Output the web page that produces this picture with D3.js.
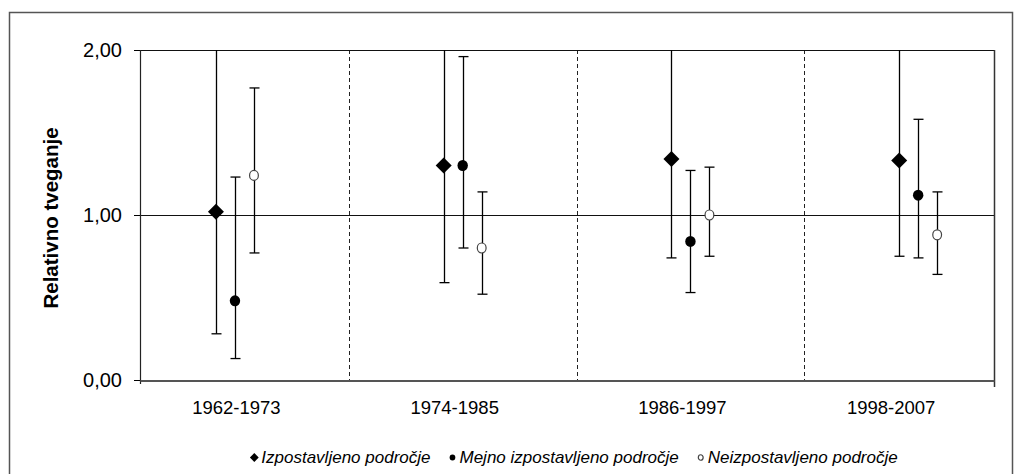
<!DOCTYPE html>
<html>
<head>
<meta charset="utf-8">
<script src="https://cdn.jsdelivr.net/npm/d3@7"></script>
<style>
  html, body { margin: 0; padding: 0; background: #fff; }
  svg { display: block; font-family: "Liberation Sans", Arial, sans-serif; }
</style>
</head>
<body>
<svg id="chart" width="1024" height="474"></svg>
<script>
// Relative risk by period with 95% confidence intervals
const categories = ["1962-1973", "1974-1985", "1986-1997", "1998-2007"];
const seriesNames = ["Izpostavljeno področje", "Mejno izpostavljeno področje", "Neizpostavljeno področje"];

const rrExposed   = [1.02, 1.30, 1.34, 1.33];
const lowExposed  = [0.28, 0.59, 0.74, 0.75];
const highExposed = [3.70, 2.90, 2.40, 2.35];

const rrBorder   = [0.48, 1.30, 0.84, 1.12];
const lowBorder  = [0.13, 0.80, 0.53, 0.74];
const highBorder = [1.23, 1.96, 1.27, 1.58];

const rrUnexposed   = [1.24, 0.80, 1.00, 0.88];
const lowUnexposed  = [0.77, 0.52, 0.75, 0.64];
const highUnexposed = [1.77, 1.14, 1.29, 1.14];

const yTicks = [0, 1, 2];
const yTitle = "Relativno tveganje";

const series = [
  { name: seriesNames[0], rr: rrExposed, low: lowExposed, high: highExposed, shape: "diamond" },
  { name: seriesNames[1], rr: rrBorder, low: lowBorder, high: highBorder, shape: "dot" },
  { name: seriesNames[2], rr: rrUnexposed, low: lowUnexposed, high: highUnexposed, shape: "ring" }
];

const svg = d3.select("#chart");
const plot = { left: 140, right: 994, top: 50, bottom: 380 };

const locale = d3.formatLocale({ decimal: ",", thousands: ".", grouping: [3], currency: ["", " €"] });
const fmt = locale.format(".2f");

const x = d3.scalePoint().domain(categories).range([plot.left, plot.right]).padding(0.375).align(0.556);
const xInner = d3.scalePoint().domain(seriesNames).range([-19, 19]);
const y = d3.scaleLinear().domain([0, 2]).range([plot.bottom, plot.top]);

// outer frame
svg.append("path")
  .attr("d", "M9.5,474 V12.5 H1012.5 V474")
  .attr("fill", "none").attr("stroke", "#555").attr("stroke-width", 1.5);

svg.append("defs").append("clipPath").attr("id", "plotClip")
  .append("rect")
  .attr("x", plot.left).attr("y", plot.top)
  .attr("width", plot.right - plot.left).attr("height", plot.bottom - plot.top);

// period boundaries midway between category positions
const cats = categories.map(c => x(c));
const bounds = [plot.left];
for (let i = 0; i < cats.length - 1; i++) bounds.push((cats[i] + cats[i + 1]) / 2);
bounds.push(plot.right);

svg.append("g").selectAll("line").data(bounds.slice(1, -1)).join("line")
  .attr("x1", d => Math.round(d) + 0.5).attr("x2", d => Math.round(d) + 0.5)
  .attr("y1", plot.top).attr("y2", plot.bottom)
  .attr("stroke", "#222").attr("stroke-width", 1)
  .attr("stroke-dasharray", "4,3");

// y axis with horizontal rules at each tick
const yAxis = d3.axisLeft(y).tickValues(yTicks).tickFormat(fmt).tickSize(6).tickPadding(12);
const gy = svg.append("g").attr("transform", `translate(${plot.left},0)`).call(yAxis);
gy.select(".domain").remove();
gy.selectAll(".tick line").attr("stroke", "#000");
gy.selectAll(".tick text").attr("font-size", 20).attr("fill", "#000")
  .attr("font-family", "Liberation Sans, Arial, sans-serif");

svg.append("g").selectAll("line").data(yTicks.filter(v => v > 0)).join("line")
  .attr("x1", plot.left).attr("x2", plot.right)
  .attr("y1", d => Math.round(y(d)) + 0.5).attr("y2", d => Math.round(y(d)) + 0.5)
  .attr("stroke", "#111").attr("stroke-width", 1);

// left axis line and right edge
svg.append("line")
  .attr("x1", plot.left + 0.5).attr("x2", plot.left + 0.5)
  .attr("y1", plot.top).attr("y2", plot.bottom + 4)
  .attr("stroke", "#222").attr("stroke-width", 1.2);
svg.append("line")
  .attr("x1", plot.right + 0.5).attr("x2", plot.right + 0.5)
  .attr("y1", plot.top).attr("y2", plot.bottom + 7)
  .attr("stroke", "#333").attr("stroke-width", 1.5);

// category axis
const xAxis = d3.axisBottom(d3.scaleLinear().domain([plot.left, plot.right]).range([plot.left, plot.right]))
  .tickValues(bounds.slice(1, -1)).tickSize(0).tickFormat("");
const gx = svg.append("g").attr("transform", `translate(0,${plot.bottom + 0.5})`).call(xAxis);
gx.select(".domain").attr("stroke", "#555").attr("stroke-width", 1.8);

svg.append("g").selectAll("text").data(categories).join("text")
  .attr("x", (d, i) => (bounds[i] + bounds[i + 1]) / 2 - 8)
  .attr("y", 414)
  .attr("text-anchor", "middle")
  .attr("font-size", 18.5)
  .attr("fill", "#000")
  .text(d => d);

// y title
svg.append("text")
  .attr("transform", `translate(58,218) rotate(-90)`)
  .attr("text-anchor", "middle")
  .attr("font-size", 20.5)
  .attr("font-weight", "bold")
  .attr("fill", "#000")
  .text(yTitle);

// markers
const diamondPath = d3.symbol(d3.symbolSquare, 128)();
function drawMarker(g, shape, scale) {
  if (shape === "diamond") {
    g.append("path").attr("d", diamondPath)
      .attr("transform", `scale(${scale}) rotate(45)`).attr("fill", "#000");
  } else if (shape === "dot") {
    g.append("ellipse").attr("rx", 5.2 * scale).attr("ry", 5.5 * scale).attr("fill", "#000");
  } else {
    g.append("ellipse").attr("rx", 4.4 * scale).attr("ry", 5 * scale)
      .attr("fill", "#fff").attr("stroke", "#444").attr("stroke-width", 1.2);
  }
}

// error bars
const bars = svg.append("g").attr("clip-path", "url(#plotClip)");
series.forEach(s => {
  categories.forEach((c, i) => {
    const cx = Math.round(x(c) + xInner(s.name)) + 0.5;
    const g = bars.append("g");
    g.append("line")
      .attr("x1", cx).attr("x2", cx)
      .attr("y1", y(s.low[i])).attr("y2", y(s.high[i]))
      .attr("stroke", "#000").attr("stroke-width", 1.3);
    [s.low[i], s.high[i]].filter(v => v <= 2).forEach(v => {
      g.append("line")
        .attr("x1", cx - 5).attr("x2", cx + 5)
        .attr("y1", y(v)).attr("y2", y(v))
        .attr("stroke", "#000").attr("stroke-width", 1.3);
    });
  });
});

series.forEach(s => {
  categories.forEach((c, i) => {
    const g = svg.append("g")
      .attr("transform", `translate(${x(c) + xInner(s.name)},${y(s.rr[i])})`);
    drawMarker(g, s.shape, 1);
  });
});

// legend
const legend = svg.append("g");
let lx = 0;
series.forEach(s => {
  const item = legend.append("g");
  const m = item.append("g").attr("transform", "translate(0,-5.5)");
  drawMarker(m, s.shape, 0.55);
  const t = item.append("text")
    .attr("x", 7).attr("y", 0)
    .attr("font-size", 17).attr("font-style", "italic").attr("fill", "#000")
    .text(s.name);
  const w = 7 + t.node().getComputedTextLength();
  item.attr("transform", `translate(${lx},0)`);
  lx += w + 22;
});
const totalW = lx - 22;
legend.attr("transform", `translate(${574 - totalW / 2 + 2},463)`);
</script>
</body>
</html>
